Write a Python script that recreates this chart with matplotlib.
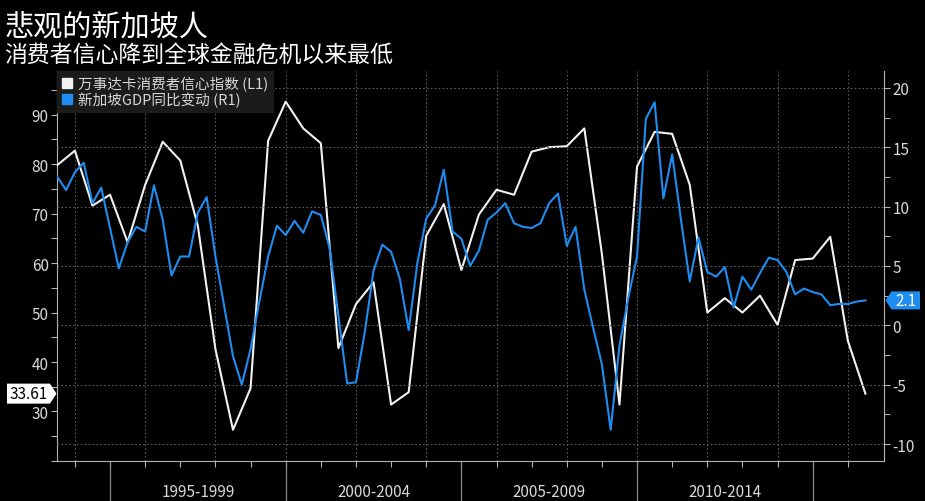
import numpy as np
import matplotlib
matplotlib.use('Agg')
import matplotlib.pyplot as plt
from matplotlib.lines import Line2D
from matplotlib.patches import Polygon
from matplotlib import transforms

plt.rcParams['font.family'] = ['Noto Sans CJK SC', 'DejaVu Sans']
plt.rcParams['axes.unicode_minus'] = False

#-----------------------------------------------------------------------------------------------------------------------
# Data

# MasterCard consumer confidence index, half-yearly from mid 1993 (left axis)
conf_years = np.arange(1993.5, 2016.51, 0.5)
confidence = [79.8, 82.7, 71.6, 73.8, 64.2, 75.8, 84.5, 80.7, 67.5, 42.6,
              26.3, 34.7, 84.7, 92.6, 87.2, 84.2, 42.8, 51.7, 56.1, 31.4,
              33.9, 65.5, 71.9, 58.6, 69.8, 74.8, 73.8, 82.5, 83.4, 83.6,
              87.2, 61.8, 31.4, 79.5, 86.5, 86.1, 75.8, 50.0, 52.9, 50.0,
              53.4, 47.5, 60.6, 60.9, 65.3, 44.3, 33.61]

# Singapore GDP yoy %, quarterly from mid 1993 (right axis)
gdp_years = np.arange(1993.5, 2016.51, 0.25)
gdp_yoy = [12.5, 11.4, 12.9, 13.7, 10.3, 11.6, 8.2, 4.8, 7.0, 8.3,
           7.9, 11.8, 8.9, 4.2, 5.8, 5.8, 9.5, 10.8, 5.8, 1.6,
           -2.6, -5.0, -2.0, 2.0, 5.8, 8.4, 7.6, 8.8, 7.8, 9.6,
           9.3, 6.5, 0.8, -4.9, -4.8, -0.6, 4.6, 6.8, 6.2, 3.9,
           -0.4, 5.3, 9.0, 10.1, 13.1, 7.9, 7.3, 5.0, 6.3, 8.9,
           9.5, 10.3, 8.6, 8.3, 8.2, 8.6, 10.3, 11.1, 6.7, 8.3,
           3.0, -0.2, -3.3, -8.8, -1.7, 2.3, 5.8, 17.4, 18.8, 10.7,
           14.4, 8.9, 3.7, 7.4, 4.5, 4.1, 4.9, 1.5, 4.1, 3.0,
           4.4, 5.7, 5.5, 4.5, 2.6, 3.1, 2.8, 2.6, 1.7, 1.8,
           1.8, 2.0, 2.1]

period_starts = [1995, 2000, 2005, 2010, 2015]
period_labels = ['1995-1999', '2000-2004', '2005-2009', '2010-2014']

legend_labels = ['万事达卡消费者信心指数 (L1)', '新加坡GDP同比变动 (R1)']
title = '悲观的新加坡人'
subtitle = '消费者信心降到全球金融危机以来最低'

#-----------------------------------------------------------------------------------------------------------------------
# Style

BG = 'black'
WHITE = '#f2f2f2'
BLUE = '#1f8cf0'
TXT = '#d8d8d8'
SPINE = '#b4b4b4'
GRID = '#5a5a5a'

fig = plt.figure(figsize=(9.25, 5.02), dpi=100, facecolor=BG)
ax = fig.add_axes([0.0616, 0.0797, 0.8941, 0.7769])
ax.set_facecolor(BG)
ax2 = ax.twinx()

ax.plot(conf_years, confidence, color=WHITE, lw=1.5, zorder=3)
ax2.plot(gdp_years, gdp_yoy, color=BLUE, lw=1.5, zorder=3)

ax.set_xlim(1993.49, 2017.03)
ax.set_ylim(20, 98.8)
ax2.set_ylim(-11.43, 21.43)

# left axis ticks
ax.set_yticks(np.arange(30, 91, 10))
ax.set_yticks(np.arange(20, 96, 5), minor=True)
ax.tick_params(axis='y', which='both', colors=SPINE, labelcolor=TXT, labelsize=11,
               length=4, width=0.8, pad=2)
# right axis ticks
ax2.set_yticks(np.arange(-10, 21, 5))
ax2.set_yticks(np.arange(-10, 21, 2.5), minor=True)
ax2.tick_params(axis='y', which='both', colors=SPINE, labelcolor=TXT, labelsize=11,
                length=4, width=0.8, pad=2)

# x axis: yearly ticks, grid every two years, no tick labels
ax.set_xticks(np.arange(1994, 2017, 2))
ax.set_xticks(np.arange(1995, 2017, 2), minor=True)
ax.tick_params(axis='x', which='both', colors=SPINE, length=4, width=0.8, labelbottom=False)

ax.grid(axis='x', which='major', color=GRID, ls=(0, (1.5, 2)), lw=0.8)
ax2.grid(axis='y', which='major', color=GRID, ls=(0, (1.5, 2)), lw=0.8)
ax.set_axisbelow(True)

for s in ['top', 'right']:
    ax.spines[s].set_visible(False)
for s in ['top', 'left', 'bottom']:
    ax2.spines[s].set_visible(False)
for s in ['left', 'bottom']:
    ax.spines[s].set_color(SPINE)
ax2.spines['right'].set_color(SPINE)

# period separators and labels below the axis
xt = transforms.blended_transform_factory(ax.transData, ax.transAxes)
for p in period_starts:
    ax.plot([p, p], [0, -0.11], color='#8a8a8a', lw=0.9, transform=xt, clip_on=False)
for p, lab in zip(period_starts, period_labels):
    ax.text(p + 2.5, -0.077, lab, transform=xt, ha='center', va='center',
            color=TXT, fontsize=11)

# legend
handles = [Line2D([], [], marker='s', ls='none', color=WHITE, markersize=7),
           Line2D([], [], marker='s', ls='none', color=BLUE, markersize=7)]
leg = ax2.legend(handles, legend_labels, loc='upper left', bbox_to_anchor=(0, 1),
                 frameon=True, facecolor='#1b1b1b', edgecolor='#1b1b1b', framealpha=1,
                 fancybox=False, borderaxespad=0, fontsize=10.5, handlelength=0.7,
                 handletextpad=0.4, labelspacing=0.05, borderpad=0.35)
for t in leg.get_texts():
    t.set_color(TXT)


# last value tags on the axes
def value_tag(axis, side, yval, text, fc, tc):
    x0 = 0 if side == 'left' else 1
    base = transforms.blended_transform_factory(axis.transAxes, axis.transData)
    tr = fig.dpi_scale_trans + transforms.ScaledTranslation(x0, yval, base)
    if side == 'left':
        pts = [(-0.50, -0.10), (-0.07, -0.10), (-0.005, 0), (-0.07, 0.10), (-0.50, 0.10)]
        xc = -0.28
    else:
        pts = [(0.015, 0), (0.075, 0.09), (0.36, 0.09), (0.36, -0.09), (0.075, -0.09)]
        xc = 0.215
    poly = Polygon(pts, closed=True, transform=tr, facecolor=fc, edgecolor='none',
                   clip_on=False, zorder=10)
    axis.add_patch(poly)
    axis.text(xc, 0, text, transform=tr, ha='center', va='center', color=tc,
              fontsize=11, clip_on=False, zorder=11)


value_tag(ax, 'left', confidence[-1], f'{confidence[-1]:.2f}', 'white', 'black')
value_tag(ax2, 'right', gdp_yoy[-1], f'{gdp_yoy[-1]:.1f}', BLUE, 'white')

# titles
fig.text(0.005, 0.946, title, color='white', fontsize=21, ha='left', va='center')
fig.text(0.005, 0.889, subtitle, color='white', fontsize=16.5, ha='left', va='center')

fig.savefig('out.png', dpi=100, facecolor=BG)
